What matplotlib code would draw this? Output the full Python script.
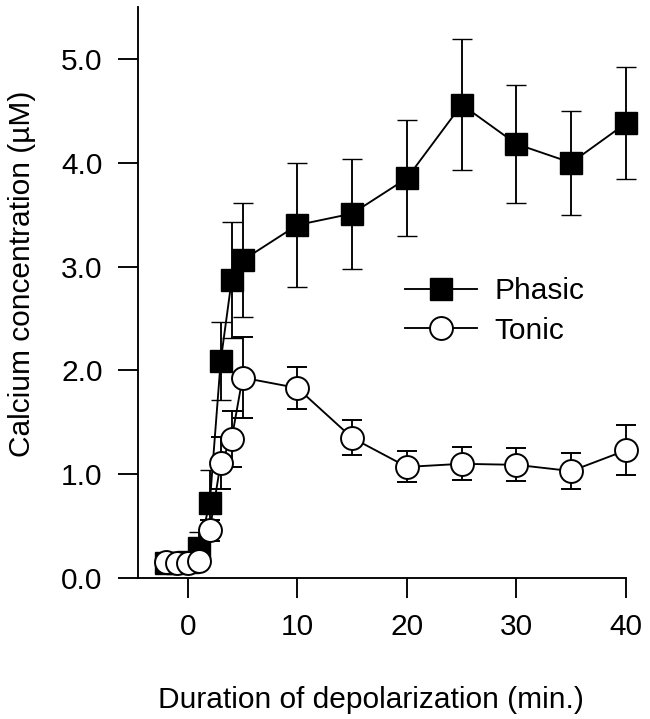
import matplotlib
matplotlib.use("Agg")
import matplotlib.pyplot as plt

plt.rcParams['font.family'] = ['Liberation Sans', 'DejaVu Sans']

time_min = [-2, -1, 0, 1, 2, 3, 4, 5, 10, 15, 20, 25, 30, 35, 40]
phasic = [0.14, 0.14, 0.15, 0.29, 0.72, 2.09, 2.87, 3.06, 3.40, 3.51, 3.85, 4.56, 4.18, 4.00, 4.38]
phasic_err = [0.03, 0.03, 0.03, 0.15, 0.32, 0.38, 0.56, 0.55, 0.60, 0.53, 0.56, 0.63, 0.57, 0.50, 0.54]
tonic = [0.15, 0.14, 0.14, 0.16, 0.46, 1.11, 1.34, 1.93, 1.83, 1.35, 1.07, 1.10, 1.09, 1.03, 1.23]
tonic_err = [0.03, 0.03, 0.03, 0.04, 0.10, 0.25, 0.27, 0.39, 0.20, 0.17, 0.15, 0.16, 0.16, 0.17, 0.24]

x_ticks = [0, 10, 20, 30, 40]
y_ticks = [0, 1, 2, 3, 4, 5]
y_ticklabels = ['0.0', '1.0', '2.0', '3.0', '4.0', '5.0']

fig = plt.figure(figsize=(6.5, 7.19), dpi=100)
ax = fig.add_axes([138/650, 1-578/719, (626-138)/650, (578-7)/719])

LW = 1.35
eb1 = ax.errorbar(time_min, phasic, yerr=phasic_err, color='black', lw=LW,
                  marker='s', markersize=15.8, markerfacecolor='black',
                  markeredgecolor='black', markeredgewidth=1.0,
                  ecolor='black', elinewidth=LW, capsize=7, capthick=LW,
                  label='Phasic', zorder=2)
eb2 = ax.errorbar(time_min, tonic, yerr=tonic_err, color='black', lw=LW,
                  marker='o', markersize=16.5, markerfacecolor='white',
                  markeredgecolor='black', markeredgewidth=1.4,
                  ecolor='black', elinewidth=LW, capsize=7, capthick=LW,
                  label='Tonic', zorder=3)
for eb in (eb1, eb2):
    for art in eb.get_children():
        art.set_clip_on(False)

ax.set_xlim(-4.55, 40)
ax.set_ylim(0, 5.5)
ax.set_xticks(x_ticks)
ax.set_yticks(y_ticks)
ax.set_yticklabels(y_ticklabels)
ax.tick_params(direction='out', length=14.4, width=LW, pad=11, labelsize=21.5)
for s in ['top', 'right']:
    ax.spines[s].set_visible(False)
for s in ['left', 'bottom']:
    ax.spines[s].set_linewidth(LW)

ax.legend(handles=[eb1.lines[0], eb2.lines[0]],
          labels=['Phasic', 'Tonic'],
          loc='upper left', bbox_to_anchor=(405/650, 1-277/719),
          bbox_transform=fig.transFigure, frameon=False,
          fontsize=21.5, handlelength=2.4, handletextpad=0.6,
          labelspacing=0.4, borderpad=0, borderaxespad=0)

fig.text(371/650, 1-708/719, 'Duration of depolarization (min.)',
         ha='center', va='baseline', fontsize=21.5)
fig.text(30/650, 1-274/719, 'Calcium concentration (\u00b5M)',
         rotation=90, rotation_mode='anchor', ha='center', va='baseline',
         fontsize=21.5)

fig.savefig('out.png', dpi=100)
